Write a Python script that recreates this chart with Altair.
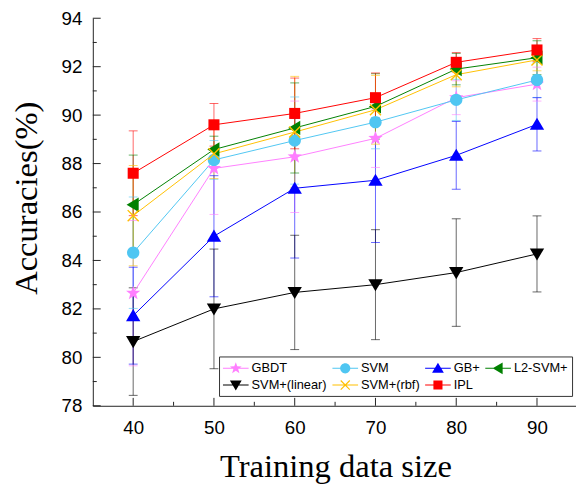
import altair as alt
import pandas as pd

# ---------------- data ----------------
sizes = [40, 50, 60, 70, 80, 90]
series = ["GBDT", "SVM", "GB+", "L2-SVM+", "SVM+(linear)", "SVM+(rbf)", "IPL"]
colors = ["#FF7FFF", "#4FC6F2", "#0000FF", "#008000", "#000000", "#FFC000", "#FF0000"]

acc_gbdt = [82.65, 87.80, 88.28, 89.04, 90.72, 91.28]
acc_svm = [84.32, 88.15, 88.95, 89.71, 90.63, 91.45]
acc_gbp = [81.72, 85.00, 86.98, 87.31, 88.34, 89.62]
acc_l2 = [86.30, 88.58, 89.47, 90.36, 91.90, 92.37]
acc_lin = [80.65, 82.00, 82.68, 83.00, 83.50, 84.27]
acc_rbf = [85.85, 88.40, 89.30, 90.22, 91.67, 92.28]
acc_ipl = [87.60, 89.60, 90.07, 90.72, 92.18, 92.69]

err_gbdt = [3.00, 1.90, 2.30, 1.20, 0.70, 0.70]
err_svm = [2.30, 0.80, 1.80, 1.10, 0.85, 0.72]
err_gbp = [2.00, 2.50, 2.88, 2.57, 1.40, 1.10]
err_l2 = [2.05, 0.55, 1.86, 1.35, 0.65, 0.70]
err_lin = [2.22, 2.47, 2.36, 2.27, 2.22, 1.57]
err_rbf = [2.07, 1.02, 2.30, 1.42, 0.50, 0.45]
err_ipl = [1.75, 0.88, 1.46, 1.02, 0.40, 0.47]

y_major = [78, 80, 82, 84, 86, 88, 90, 92, 94]
y_minor = [79, 81, 83, 85, 87, 89, 91, 93]
x_major = [40, 50, 60, 70, 80, 90]
x_minor = [45, 55, 65, 75, 85]

accs = [acc_gbdt, acc_svm, acc_gbp, acc_l2, acc_lin, acc_rbf, acc_ipl]
errs = [err_gbdt, err_svm, err_gbp, err_l2, err_lin, err_rbf, err_ipl]

rows = []
for name, a_list, e_list in zip(series, accs, errs):
    for s, a, e in zip(sizes, a_list, e_list):
        rows.append({"series": name, "size": s, "acc": a, "lo": a - e, "hi": a + e})
df = pd.DataFrame(rows)

# ---------------- marker shapes (custom symbol paths) ----------------
def norm(pts):
    area = sum(pts[i][0] * pts[(i + 1) % len(pts)][1] - pts[(i + 1) % len(pts)][0] * pts[i][1]
               for i in range(len(pts)))
    return pts if area > 0 else pts[::-1]

def poly(pts, k=1.0, dx=0.0):
    pts = norm(pts)
    return "M" + "L".join(f"{x * k + dx:.3f},{y * k:.3f}" for x, y in pts) + "Z"

def circle(r, dx=0.0):
    return (f"M{dx + r:.3f},0A{r:.3f},{r:.3f},0,1,1,{dx - r:.3f},0"
            f"A{r:.3f},{r:.3f},0,1,1,{dx + r:.3f},0Z")

STAR = [(0, -0.68), (0.1646, -0.2265), (0.6467, -0.2101), (0.2663, 0.0865), (0.3997, 0.5501),
        (0, 0.28), (-0.3997, 0.5501), (-0.2663, 0.0865), (-0.6467, -0.2101), (-0.1646, -0.2265)]
TRI_UP = [(0, -0.6), (0.65, 0.5), (-0.65, 0.5)]
TRI_DOWN = [(0, 0.6), (-0.65, -0.5), (0.65, -0.5)]
TRI_LEFT = [(-0.6, 0), (0.5, 0.65), (0.5, -0.65)]
SQUARE = [(-0.5, -0.5), (0.5, -0.5), (0.5, 0.5), (-0.5, 0.5)]
X1 = [(-0.455, -0.545), (0.545, 0.455), (0.455, 0.545), (-0.545, -0.455)]
X2 = [(-0.455, 0.545), (-0.545, 0.455), (0.455, -0.545), (0.545, -0.455)]

def marker(kind, k=1.0, dx=0.0):
    if kind == "star":
        return poly(STAR, k, dx)
    if kind == "circle":
        return circle(0.56 * k, dx)
    if kind == "up":
        return poly(TRI_UP, k, dx)
    if kind == "left":
        return poly(TRI_LEFT, k, dx)
    if kind == "down":
        return poly(TRI_DOWN, k, dx)
    if kind == "cross":
        return poly(X1, k, dx) + poly(X2, k, dx)
    return poly(SQUARE, k, dx)

kinds = ["star", "circle", "up", "left", "down", "cross", "square"]
plot_paths = [marker(k) for k in kinds]
LINE = "M-1,-0.07L2.25,-0.07L2.25,0.07L-1,0.07Z"
legend_paths = [LINE + marker(k, 1.15, 0.625) for k in kinds]

# ---------------- scales / axes ----------------
W, H = 490, 393
x_scale = alt.Scale(domain=[35, 94.83], nice=False, zero=False)
y_scale = alt.Scale(domain=[78, 94], nice=False, zero=False)
# marks: same mapping, listed in reverse so that this (legend-less) scale is kept apart from the legend's
mark_color_scale = alt.Scale(domain=series[::-1], range=colors[::-1])
legend_fill_scale = alt.Scale(domain=series, range=colors)

x_axis = alt.Axis(title="Training data size", values=x_major, format="d", ticks=False, grid=False,
                  domainColor="#222222", domainWidth=1, labelFont="Liberation Sans", labelFontSize=19,
                  labelColor="black", labelPadding=13, titleFont="Liberation Serif", titleFontSize=33,
                  titleFontWeight="normal", titleColor="black", titleX=246, titleY=46)
y_axis = alt.Axis(title="Accuracies(%)", values=y_major, format="d", ticks=False, grid=False,
                  domainColor="#222222", domainWidth=1, labelFont="Liberation Sans", labelFontSize=19,
                  labelColor="black", labelPadding=11, titleFont="Liberation Serif", titleFontSize=33,
                  titleFontWeight="normal", titleColor="black", titleX=-50, titleY=182,
                  titleBaseline="bottom")

X = alt.X("size:Q", scale=x_scale, axis=x_axis)
color_nolegend = alt.Color("series:N", scale=mark_color_scale, legend=None)

# ---------------- tick marks (inward, major + minor) ----------------
tick_col = "#222222"
ymaj = alt.Chart(pd.DataFrame({"v": y_major})).mark_rule(color=tick_col, strokeWidth=1).encode(
    y=alt.Y("v:Q", scale=y_scale, axis=y_axis), x=alt.value(0), x2=alt.value(8))
ymin = alt.Chart(pd.DataFrame({"v": y_minor})).mark_rule(color=tick_col, strokeWidth=1).encode(
    y=alt.Y("v:Q", scale=y_scale, axis=y_axis), x=alt.value(0), x2=alt.value(4))
xmaj = alt.Chart(pd.DataFrame({"v": x_major})).mark_rule(color=tick_col, strokeWidth=1).encode(
    x=alt.X("v:Q", scale=x_scale, axis=x_axis), y=alt.value(H), y2=alt.value(H - 8))
xmin = alt.Chart(pd.DataFrame({"v": x_minor})).mark_rule(color=tick_col, strokeWidth=1).encode(
    x=alt.X("v:Q", scale=x_scale, axis=x_axis), y=alt.value(H), y2=alt.value(H - 4))

base = alt.Chart(df)

# ---------------- error bars ----------------
ebar = base.mark_rule(strokeWidth=1, opacity=0.6).encode(
    x=X, y=alt.Y("lo:Q", scale=y_scale, axis=y_axis), y2="hi:Q", color=color_nolegend)
cap_lo = base.mark_tick(orient="horizontal", size=9, thickness=1, opacity=0.6).encode(
    x=X, y=alt.Y("lo:Q", scale=y_scale, axis=y_axis), color=color_nolegend)
cap_hi = base.mark_tick(orient="horizontal", size=9, thickness=1, opacity=0.6).encode(
    x=X, y=alt.Y("hi:Q", scale=y_scale, axis=y_axis), color=color_nolegend)

# ---------------- lines ----------------
lines = base.mark_line(strokeWidth=1).encode(
    x=X, y=alt.Y("acc:Q", scale=y_scale, axis=y_axis), color=color_nolegend)

# ---------------- markers ----------------
point_layers = []
for name, path in zip(series, plot_paths):
    point_layers.append(
        base.transform_filter(alt.datum.series == name)
        .mark_point(shape=path, filled=True, size=500, opacity=1, strokeWidth=0)
        .encode(x=X, y=alt.Y("acc:Q", scale=y_scale, axis=y_axis), color=color_nolegend)
    )

# ---------------- legend (from a layer whose marks are all filtered out) ----------------
leg = alt.Legend(title=None, orient="none", legendX=128, legendY=343, direction="horizontal",
                 columns=4, columnPadding=5, rowPadding=2, padding=4,
                 symbolSize=256, symbolStrokeWidth=0, symbolOpacity=1,
                 labelFont="Liberation Sans", labelFontSize=13, labelColor="black",
                 labelOffset=13, strokeColor="#333333", fillColor="white", zindex=1)
legend_layer = base.transform_filter("datum.size < 0").mark_point(filled=True, opacity=1, size=256).encode(
    x=X, y=alt.Y("acc:Q", scale=y_scale, axis=y_axis),
    fill=alt.Fill("series:N", scale=legend_fill_scale, legend=leg),
    shape=alt.Shape("series:N", scale=alt.Scale(domain=series, range=legend_paths), legend=leg))

chart = alt.layer(
    ymaj, ymin, xmaj, xmin, ebar, cap_lo, cap_hi, lines, *point_layers, legend_layer
).properties(
    width=W, height=H,
    autosize=alt.AutoSizeParams(type="none"),
    padding={"left": 86, "top": 7, "right": 0, "bottom": 80},
    background="white",
).configure_view(stroke=None)

chart.save("out.html", embed_options={"renderer": "svg", "actions": False})
